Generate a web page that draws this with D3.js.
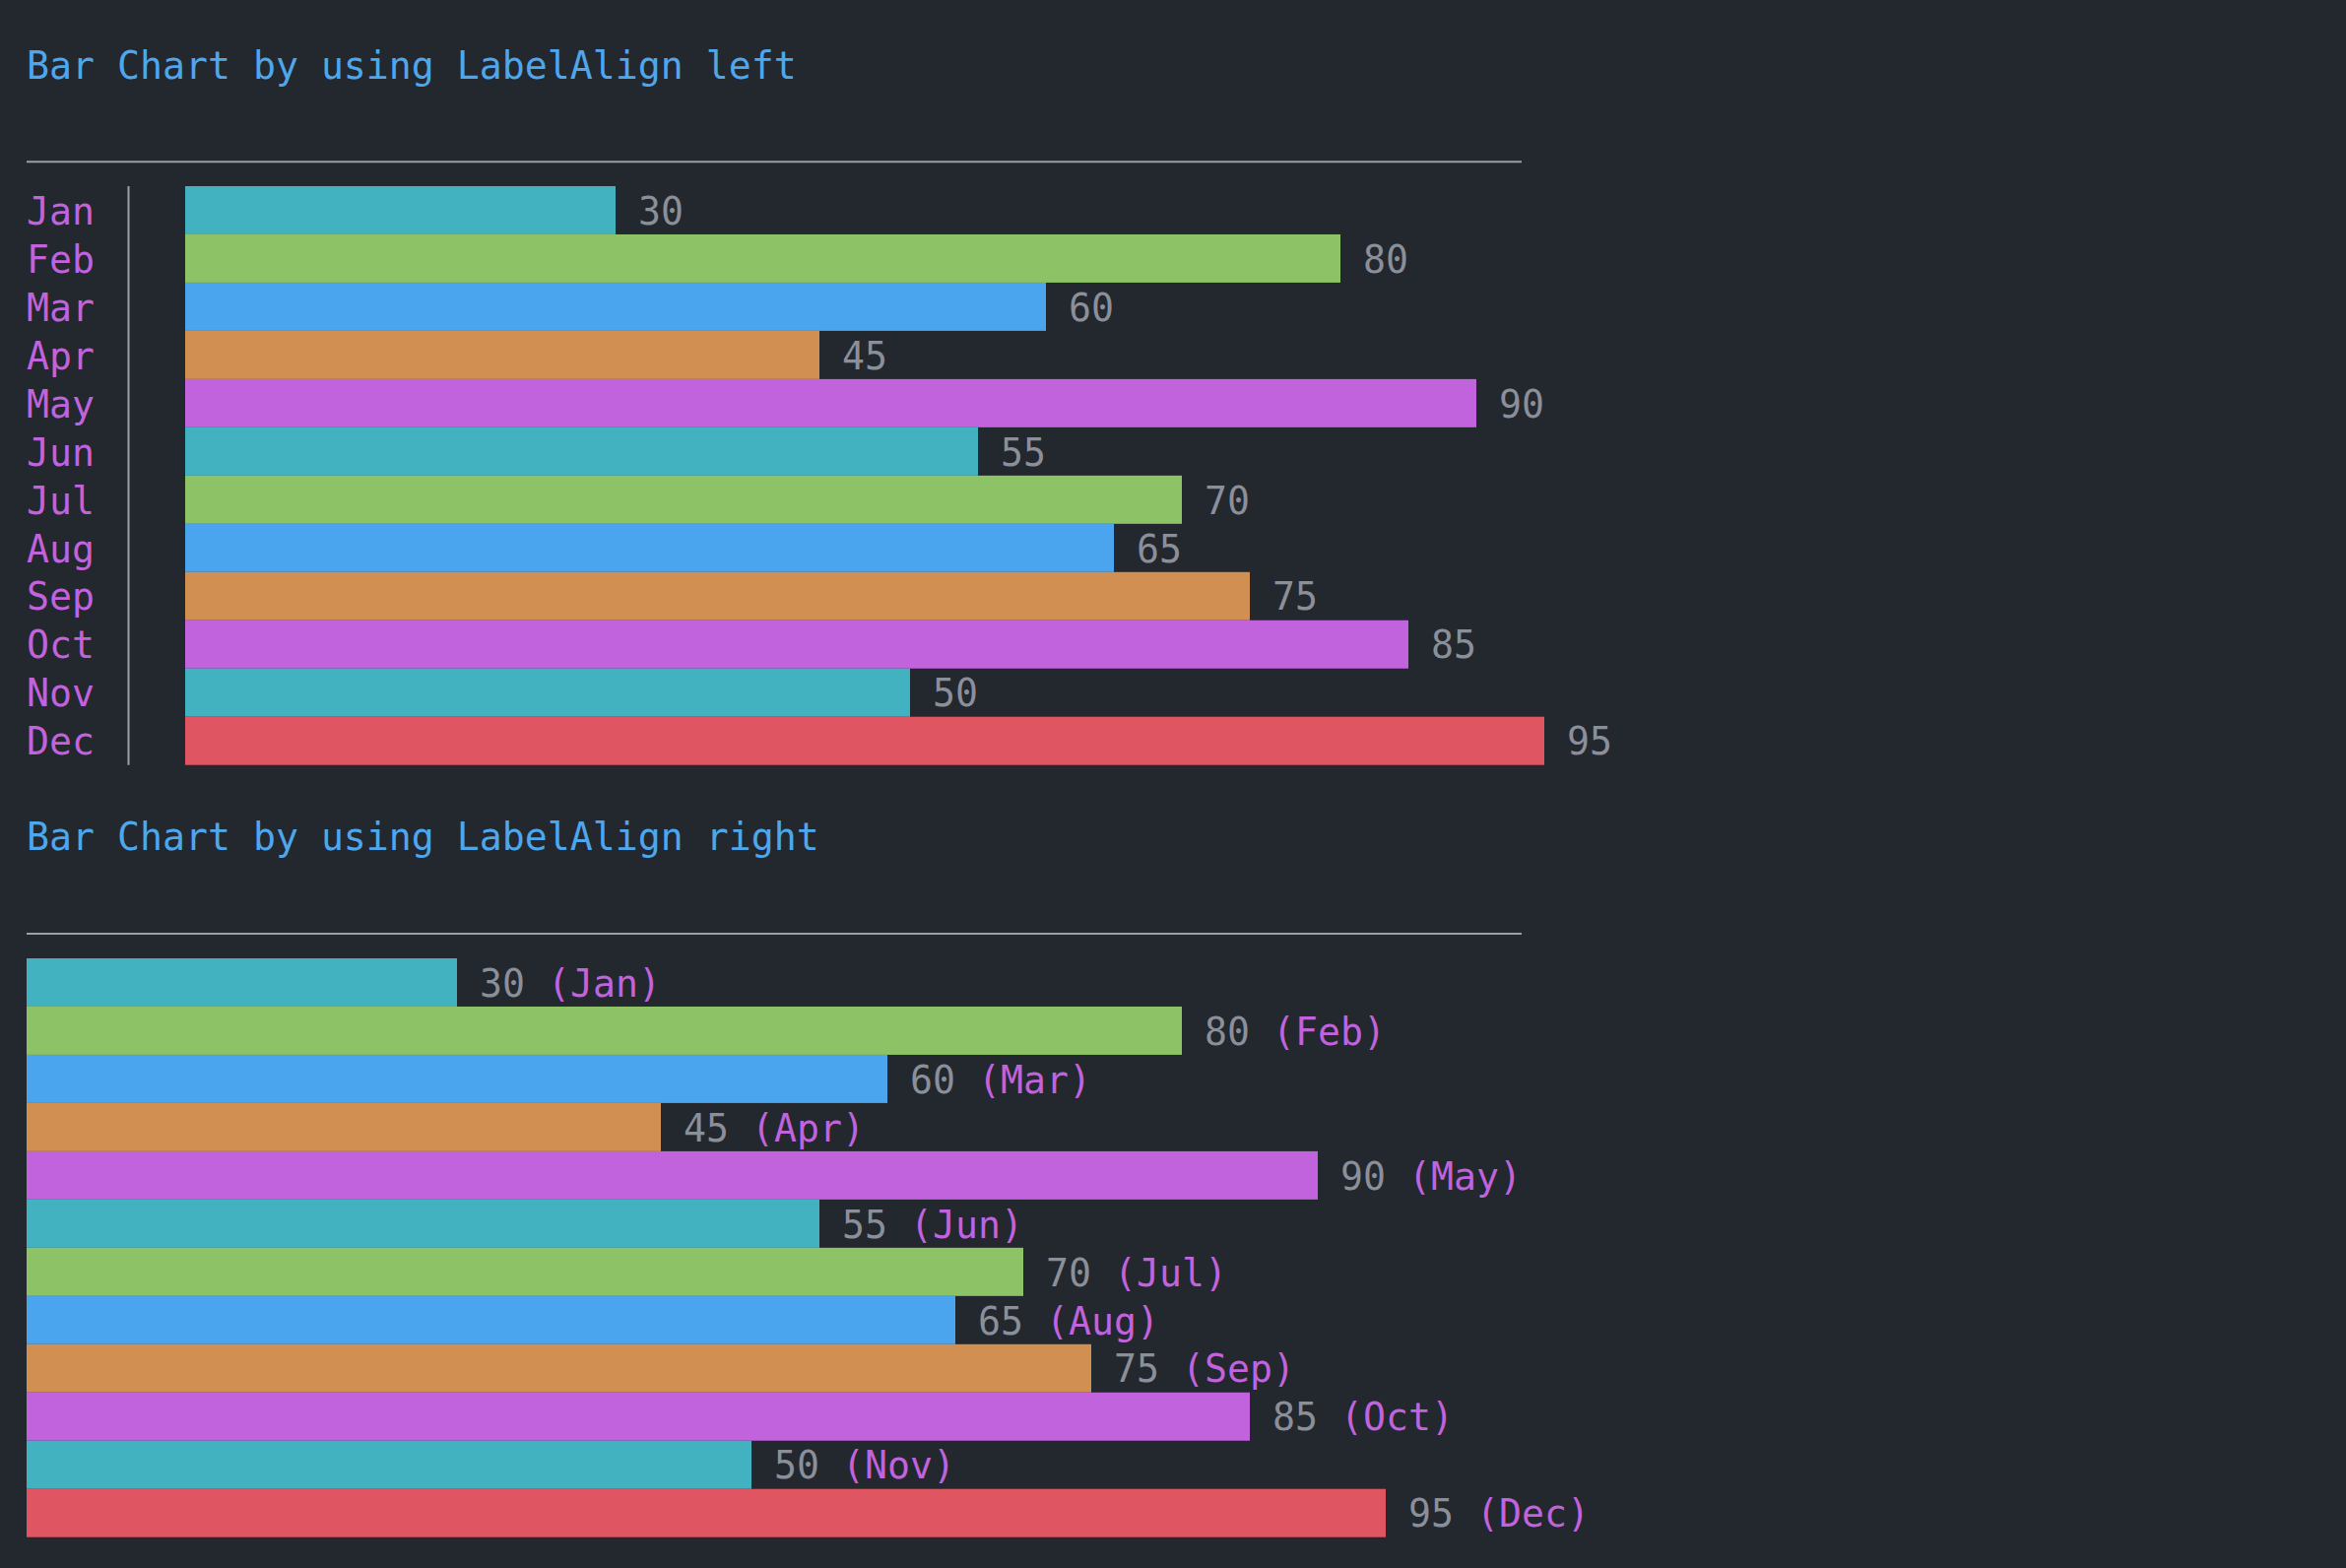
<!DOCTYPE html>
<html>
<head>
<meta charset="utf-8">
<script src="https://cdn.jsdelivr.net/npm/d3@7/dist/d3.min.js"></script>
<style>
  html, body { margin: 0; padding: 0; background: #23272e; }
  svg { display: block; }
  text { font-family: "DejaVu Sans Mono", "Liberation Mono", monospace; font-size: 38.2px; }
</style>
</head>
<body>
<script>
// ---- data ----
const months = ["Jan","Feb","Mar","Apr","May","Jun","Jul","Aug","Sep","Oct","Nov","Dec"];
const values = [30, 80, 60, 45, 90, 55, 70, 65, 75, 85, 50, 95];
const titles = ["Bar Chart by using LabelAlign left", "Bar Chart by using LabelAlign right"];

// ---- styles / layout ----
const W = 2382, H = 1592;
const cell = 23;          // character cell width (terminal-style grid)
const originX = 27;
const maxCells = 60;      // width of the longest bar in cells
const bg = "#23272e";
const palette = ["#42b2c0", "#8dc366", "#4aa5ee", "#d18f51", "#c063dc"];
const highlight = "#e05562";
const titleColor = "#4ea7ec";
const monthColor = "#c063dc";
const valueColor = "#8b8f99";
const ruleColor = "#9c9fa7";
const maxVal = d3.max(values);
const colorOf = (v, i) => v === maxVal ? highlight : palette[i % palette.length];

const data = months.map((m, i) => ({ month: m, value: values[i], i }));

const svg = d3.select("body").append("svg")
  .attr("width", W).attr("height", H);
svg.append("rect").attr("width", W).attr("height", H).attr("fill", bg);

// value -> whole number of character cells
const xCells = d3.scaleLinear().domain([0, maxVal]).rangeRound([0, maxCells]);
const barW = v => xCells(v) * cell;

function drawChart(cfg) {
  const g = svg.append("g");
  g.append("text").attr("x", originX).attr("y", cfg.titleY)
    .attr("fill", titleColor).text(cfg.title);
  g.append("line").attr("x1", originX).attr("x2", 1545)
    .attr("y1", cfg.ruleY).attr("y2", cfg.ruleY)
    .attr("stroke", ruleColor).attr("stroke-width", 2);

  const y = d3.scaleBand().domain(months).range([cfg.top, cfg.bottom]).padding(0);
  const textY = d => y(d.month) + y.bandwidth() / 2 + 14.2;

  if (cfg.align === "left") {
    g.append("line").attr("x1", originX + 4.5 * cell).attr("x2", originX + 4.5 * cell)
      .attr("y1", cfg.top).attr("y2", cfg.bottom)
      .attr("stroke", ruleColor).attr("stroke-width", 2);
    g.selectAll(".mlab").data(data).join("text")
      .attr("x", originX).attr("y", textY)
      .attr("fill", monthColor).text(d => d.month);
  }

  const x0 = originX + cfg.barCol * cell;
  g.selectAll(".bar").data(data).join("rect")
    .attr("x", x0).attr("y", d => y(d.month))
    .attr("width", d => barW(d.value)).attr("height", y.bandwidth())
    .attr("fill", d => colorOf(d.value, d.i));

  const lab = g.selectAll(".vlab").data(data).join("text")
    .attr("x", d => x0 + barW(d.value) + cell)
    .attr("y", textY);
  lab.append("tspan").attr("fill", valueColor).text(d => d.value);
  if (cfg.align === "right") {
    lab.append("tspan").attr("fill", monthColor).text(d => " (" + d.month + ")");
  }
}

drawChart({ title: titles[0], titleY: 80, ruleY: 164.3, top: 189, bottom: 776.7, barCol: 7, align: "left" });
drawChart({ title: titles[1], titleY: 863, ruleY: 948, top: 973, bottom: 1560.7, barCol: 0, align: "right" });
</script>
</body>
</html>
